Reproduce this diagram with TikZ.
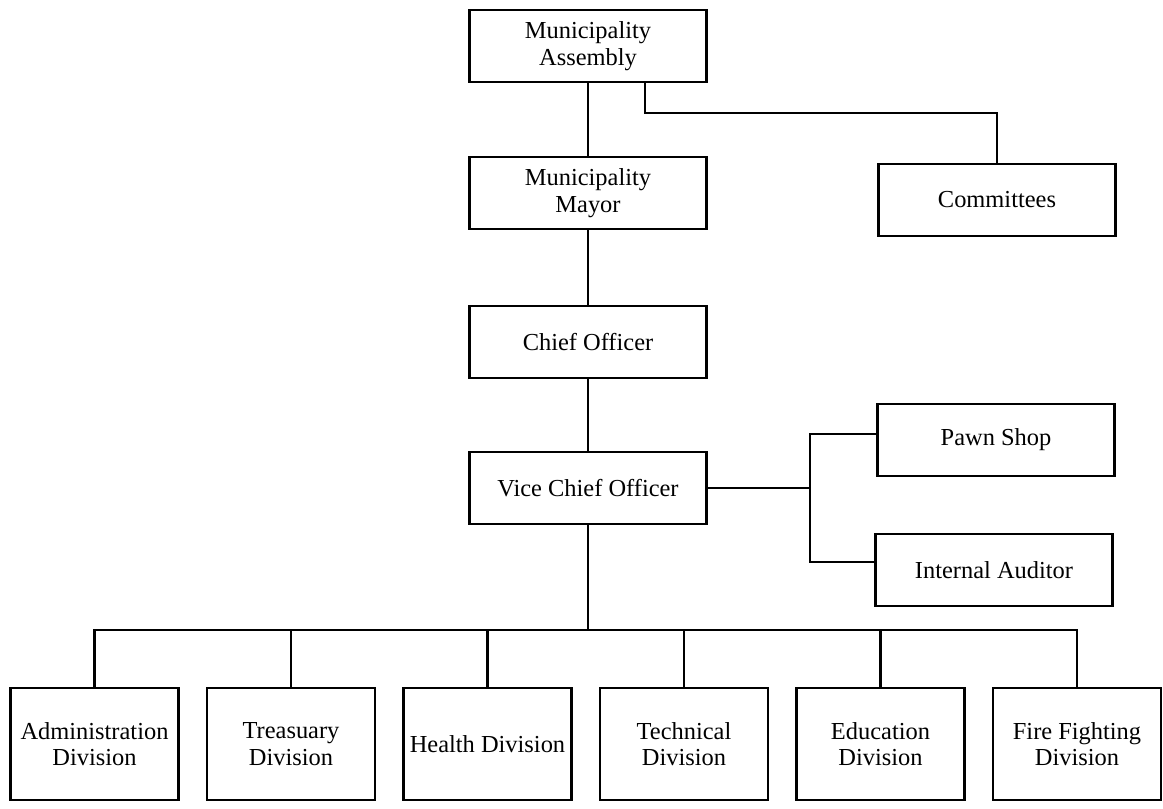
\documentclass[tikz,border=0pt]{standalone}
\usepackage{fontspec}
\setmainfont{Liberation Serif}
\tikzset{
  unitbox/.style={
    draw, line width=1.4pt, align=center, inner sep=2pt,
    minimum width=4.74cm, minimum height=1.45cm,
    font=\fontsize{13.9}{15}\selectfont
  },
  divbox/.style={
    unitbox, minimum width=3.36cm, minimum height=2.24cm
  },
  link/.style={line width=1.4pt}
}

\begin{document}
\begin{tikzpicture}[line join=miter]
\useasboundingbox (0,0) rectangle (23.26,16.16);
\node[unitbox] (assembly) at (11.76,15.24) {Municipality\\Assembly};
\node[unitbox] (mayor) at (11.76,12.30) {Municipality\\Mayor};
\node[unitbox] (committees) at (19.94,12.16) {Committees};
\node[unitbox] (chief) at (11.76,9.32) {Chief Officer};
\node[unitbox] (vice) at (11.76,6.40) {Vice Chief Officer};
\node[unitbox] (pawn) at (19.92,7.36) {Pawn Shop};
\node[unitbox] (auditor) at (19.88,4.76) {Internal Auditor};
% divisions
\foreach \name/\txt [count=\i from 0] in {%
    admin/Administration\\Division,
    treasury/Treasuary\\Division,
    health/Health Division,
    technical/Technical\\Division,
    education/Education\\Division,
    fire/Fire Fighting\\Division}
  \node[divbox] (\name) at (1.89+3.93*\i,1.28) {\txt};

\draw[link] (assembly) -- (mayor);
\draw[link] (mayor) -- (chief);
\draw[link] (chief) -- (vice);
\coordinate (cbend) at (19.94,13.9);
\draw[link] ([xshift=1.14cm]assembly.south) |- (cbend) -- (committees.north);

\coordinate (trunk) at (16.2,6.4);
\draw[link] (vice.east) -- (trunk);
\draw[link] ([yshift=0.12cm]pawn.west) -| (trunk) |- ([yshift=0.16cm]auditor.west);

\coordinate (bus) at (11.76,3.56);
\draw[link] (vice) -- (bus);
\draw[link] (admin.north) |- (bus) -| (fire.north);
\foreach \name in {treasury,health,technical,education}
  \draw[link] (\name.north |- bus) -- (\name.north);
\end{tikzpicture}
\end{document}
